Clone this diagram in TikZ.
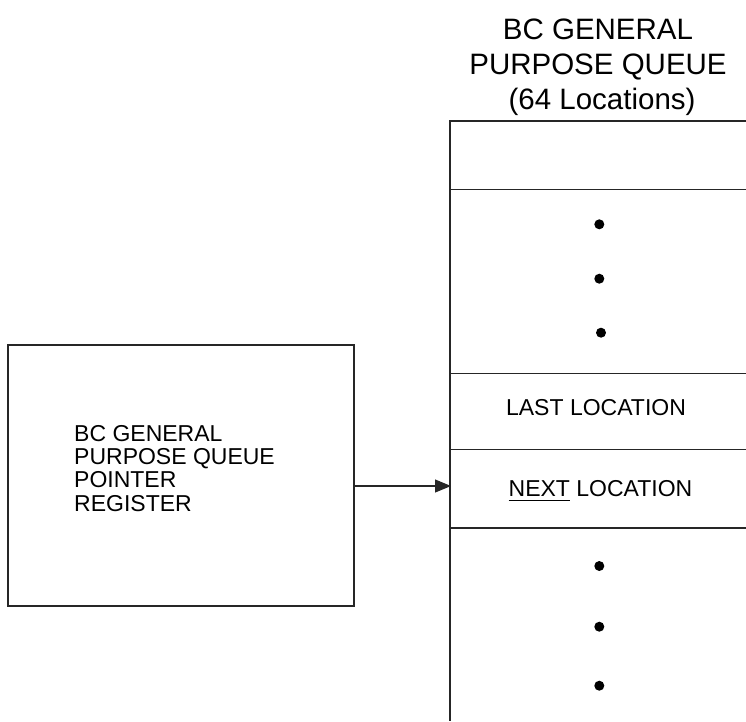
\documentclass[tikz,border=0pt]{standalone}
\usepackage{fontspec}
\setmainfont{Liberation Sans}
\usetikzlibrary{arrows.meta}
\newsavebox{\ulbox}
\newcommand{\myul}[1]{\sbox{\ulbox}{#1}\rlap{\rule[-4.2pt]{\wd\ulbox}{1.3pt}}\usebox{\ulbox}}
\tikzset{
  edge/.style={draw=black!85, line width=1.3pt},
  regbox/.style={draw=black!85, line width=1.3pt, rectangle, minimum width=346pt, minimum height=261pt, inner sep=0pt},
  regtext/.style={font=\fontsize{23}{23.3}\selectfont, align=left, inner sep=0pt},
  celltext/.style={font=\fontsize{23}{27}\selectfont, inner sep=0pt},
  titletext/.style={font=\fontsize{29.5}{35}\selectfont, align=center, inner sep=0pt},
  qdot/.style={circle, fill=black, minimum size=10pt, inner sep=0pt},
}
\begin{document}
\begin{tikzpicture}[x=1pt,y=-1pt]
\useasboundingbox (0,0) rectangle (746,721);
% title
\node[titletext, anchor=base] (title) at (598,109) {BC GENERAL\\PURPOSE QUEUE\\\ (64 Locations)};
% queue
\draw[edge] (746,121) -- (450,121) -- (450,721);
\draw[edge] (450,189.5) -- (746,189.5);
\draw[edge] (450,373.3) -- (746,373.3);
\draw[edge] (450,449.5) -- (746,449.5);
\draw[edge] (450,528) -- (746,528);
\node[qdot] (d1) at (599.3,224.3) {};
\node[qdot] (d2) at (599.3,278.7) {};
\node[qdot] (d3) at (601,332.7) {};
\node[qdot] (d4) at (599.3,566) {};
\node[qdot] (d5) at (599.3,626.7) {};
\node[qdot] (d6) at (599.3,685.7) {};
\node[celltext, anchor=base] (last) at (596,415.7) {LAST LOCATION};
\node[celltext, anchor=base] (next) at (600.5,496.7) {\myul{NEXT} LOCATION};
% register
\node[regbox] (reg) at (181,475.5) {};
\node[regtext, anchor=north west] (regt) at (74,425) {BC GENERAL\\PURPOSE QUEUE\\POINTER\\REGISTER};
% arrow
\coordinate (qin) at (451,486);
\draw[edge, line width=1.1pt, -{Triangle[length=16pt,width=13pt]}] (reg.east |- qin) -- (qin);
\end{tikzpicture}
\end{document}
